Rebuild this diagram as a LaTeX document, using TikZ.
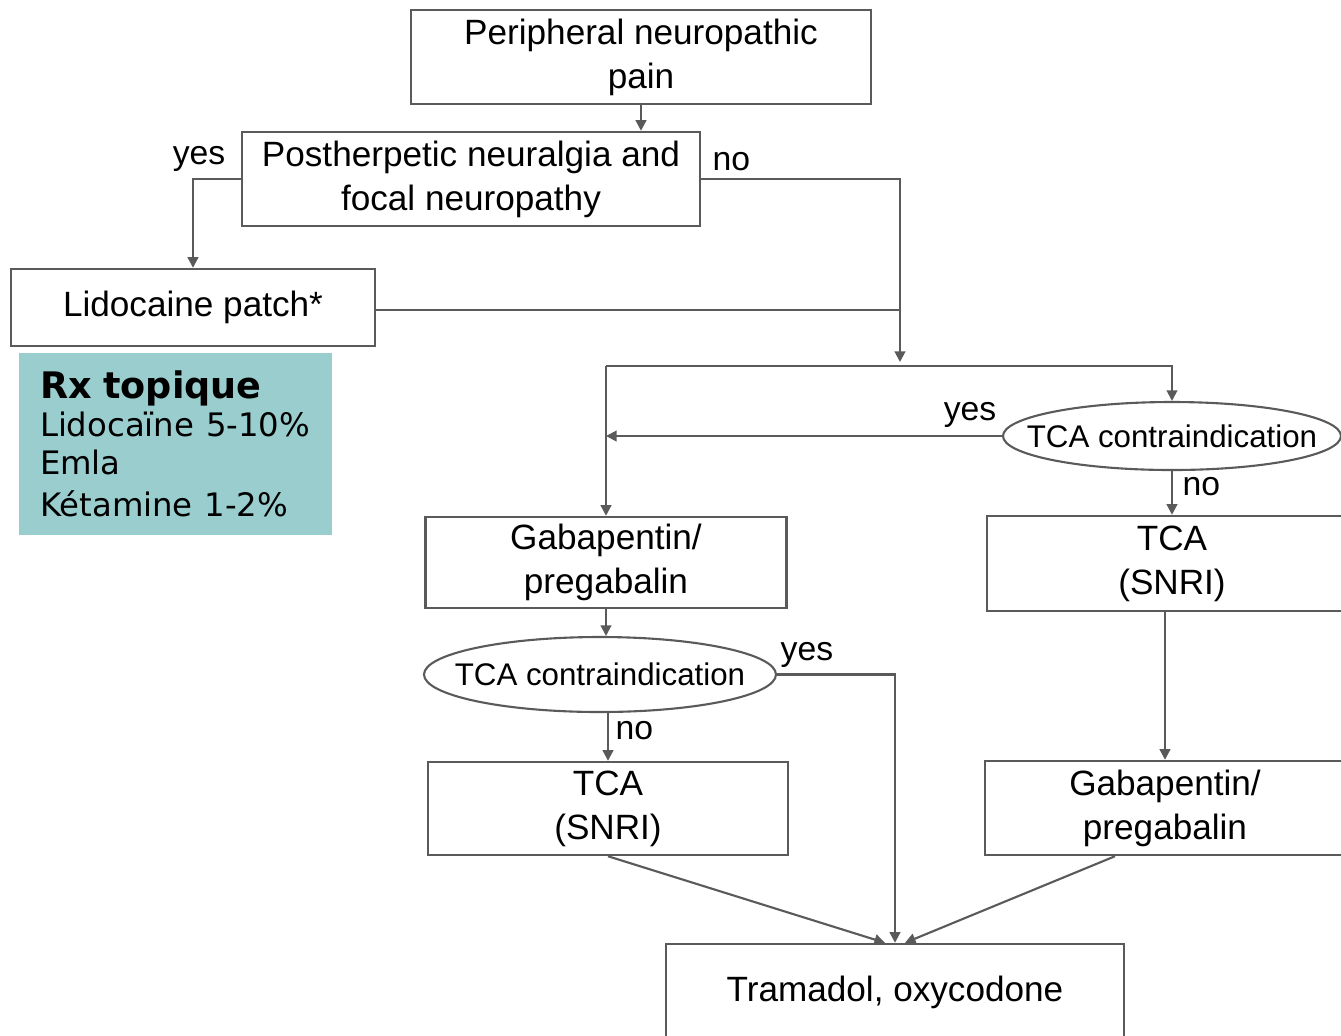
\documentclass[tikz,border=0pt]{standalone}
\usepackage{fontspec}
\setmainfont{Liberation Sans}
\newfontfamily\rxfont{DejaVu Sans}
\usetikzlibrary{arrows.meta,shapes.geometric,calc}
\definecolor{rxteal}{RGB}{154,205,206}
\definecolor{linegray}{RGB}{90,90,90}

\begin{document}
\begin{tikzpicture}[
    box/.style={draw=linegray, line width=0.7pt, align=center, inner sep=0pt,
      font=\fontsize{10}{12.5}\selectfont},
    decision/.style={ellipse, draw=linegray, line width=0.6pt, inner sep=0pt,
      font=\fontsize{8.9}{11}\selectfont},
    lbl/.style={font=\fontsize{9.6}{12}\selectfont, inner sep=0pt},
    arr/.style={draw=linegray, line width=0.6pt, -{Triangle[width=3pt,length=3pt]}},
    ln/.style={draw=linegray, line width=0.6pt}
  ]
    \useasboundingbox (0,0) rectangle (13.41,-10.35);
    \clip (0,0) rectangle (13.41,-10.35);

    % boxes
    \node[box, minimum width=4.60cm, minimum height=0.94cm] (peri) at (6.41,-0.57) {Peripheral neuropathic\\pain};
    \node[box, minimum width=4.58cm, minimum height=0.94cm] (post) at (4.71,-1.79) {Postherpetic neuralgia and\\focal neuropathy};
    \node[box, minimum width=3.64cm, minimum height=0.77cm] (lido) at (1.93,-3.075) {Lidocaine patch*};
    \node[fill=rxteal, minimum width=3.13cm, minimum height=1.82cm, text width=2.71cm,
      inner xsep=0.21cm, inner ysep=0pt, align=left] (rx) at (1.755,-4.44)
      {\rxfont{\fontsize{10.4}{10.8}\selectfont\bfseries Rx topique}\\
       \fontsize{9.2}{10.8}\selectfont Lidocaïne 5-10\%\\Emla\\Kétamine 1-2\%};

    \node[box, minimum width=3.61cm, minimum height=0.91cm] (gabL) at (6.06,-5.625) {Gabapentin/\\pregabalin};
    \node[decision, minimum width=3.52cm, minimum height=0.75cm] (tcaL) at (6.00,-6.745) {\makebox[0pt]{TCA contraindication}};
    \node[box, minimum width=3.60cm, minimum height=0.93cm] (snriL) at (6.08,-8.085) {TCA\\(SNRI)};

    \node[decision, minimum width=3.38cm, minimum height=0.68cm] (tcaR) at (11.72,-4.36) {\makebox[0pt]{TCA contraindication}};
    \node[box, minimum width=3.70cm, minimum height=0.95cm] (snriR) at (11.72,-5.635) {TCA\\(SNRI)};
    \node[box, minimum width=3.60cm, minimum height=0.94cm] (gabR) at (11.65,-8.08) {Gabapentin/\\pregabalin};

    \node[box, minimum width=4.58cm, minimum height=0.96cm] (tram) at (8.95,-9.92) {Tramadol, oxycodone};

    % junctions
    \coordinate (jtop) at (9.00,-3.62);
    \coordinate (bus) at (9.00,-3.66);

    % connectors
    \draw[arr] (peri.south) -- (peri.south |- post.north);
    \draw[arr] (post.west) -| (lido.north);
    \node[lbl, anchor=south east] (yes1) at (2.26,-1.72) {yes};
    \draw[arr] (post.east) -| (jtop);
    \node[lbl, anchor=south west] (no1) at (7.12,-1.72) {no};
    \draw[ln] ([yshift=-0.025cm]lido.east) -- ([yshift=-0.025cm]lido.east -| jtop);

    \draw[arr] (gabL.north |- bus) -| (tcaR.north);
    \draw[arr] (gabL.north |- bus) -- (gabL.north);
    \draw[arr] (tcaR.west) -- (tcaR.west -| gabL.north);
    \node[lbl, anchor=south east] (yes2) at (9.97,-4.28) {yes};
    \draw[arr] (tcaR.south) -- (snriR.north);
    \node[lbl, anchor=west] (no2) at (11.82,-4.87) {no};
    \draw[arr] (gabR.north |- snriR.south) -- (gabR.north);

    \draw[arr] (gabL.south) -- (gabL.south |- tcaL.north);
    \draw[arr] (snriL.north |- tcaL.south) -- (snriL.north);
    \node[lbl, anchor=west] (no3) at (6.15,-7.31) {no};
    \draw[arr] (tcaL.east) -| (tram.north);
    \node[lbl, anchor=south west] (yes3) at (7.80,-6.68) {yes};

    \draw[arr] (snriL.south) -- ([xshift=-0.1cm]tram.north);
    \draw[arr] ([xshift=-0.5cm]gabR.south) -- ([xshift=0.1cm]tram.north);
\end{tikzpicture}
\end{document}
